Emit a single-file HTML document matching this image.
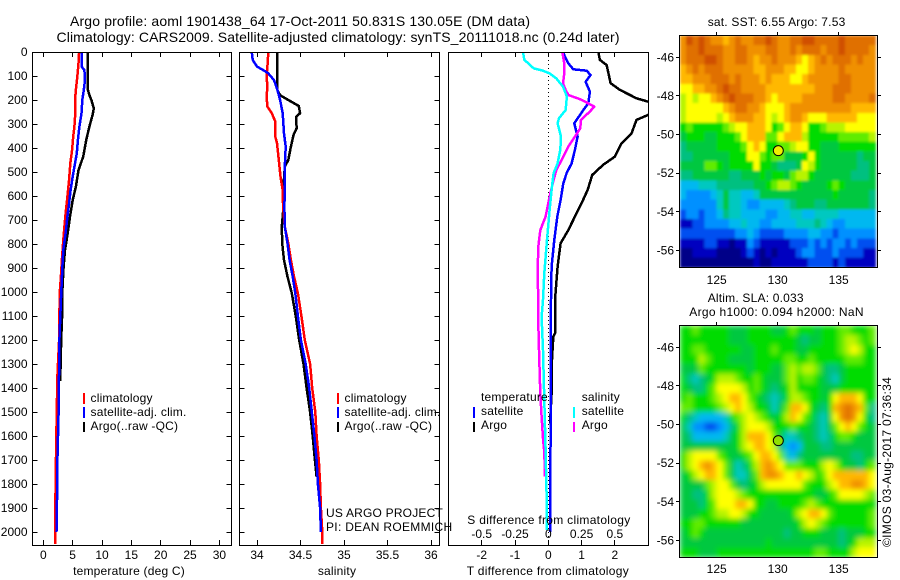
<!DOCTYPE html>
<html lang="en">
<head>
<meta charset="utf-8">
<title>Argo profile 1901438_64</title>
<style>
html,body{margin:0;padding:0;background:#fff;}
svg{display:block;font-family:"Liberation Sans",Arial,sans-serif;font-size:12px;fill:#000;}
text{letter-spacing:.2px;}
text.wide{letter-spacing:.3px;}
text.tick,text.fit{letter-spacing:0;}
</style>
</head>
<body>
<svg id="chart" xmlns="http://www.w3.org/2000/svg" width="900" height="580" viewBox="0 0 900 580">
  <defs>
    <clipPath id="clip-t"><rect x="32" y="52" width="200" height="494"/></clipPath>
    <clipPath id="clip-s"><rect x="239" y="52" width="201" height="494"/></clipPath>
    <clipPath id="clip-d"><rect x="448" y="52" width="201" height="494"/></clipPath>
    <clipPath id="clip-m1"><rect x="679" y="35" width="199" height="233"/></clipPath>
    <clipPath id="clip-m2"><rect x="679" y="325" width="199" height="233"/></clipPath>
    <filter id="blur-sst" filterUnits="userSpaceOnUse" x="679" y="35" width="199" height="233"><feGaussianBlur stdDeviation="1.2" edgeMode="duplicate"/></filter>
    <filter id="blur-sla" filterUnits="userSpaceOnUse" x="679" y="325" width="199" height="233"><feGaussianBlur stdDeviation="2.6" edgeMode="duplicate"/></filter>
  </defs>

  <rect x="0" y="0" width="900" height="580" fill="#fff"/>

  <text class="fit" x="70" y="26" font-size="14" textLength="460" lengthAdjust="spacing">Argo profile: aoml 1901438_64 17-Oct-2011 50.831S 130.05E (DM data)</text>
  <text class="fit" x="56.5" y="42" font-size="14" textLength="563" lengthAdjust="spacing">Climatology: CARS2009. Satellite-adjusted climatology: synTS_20111018.nc (0.24d later)</text>

  <g id="layer-t"></g>
  <g id="layer-s"></g>
  <g id="layer-d"></g>
  <g id="layer-m1"></g>
  <g id="layer-m2"></g>

  <text x="129" y="575" text-anchor="middle">temperature (deg C)</text>
  <text x="337" y="575" text-anchor="middle">salinity</text>
  <text class="wide" x="466.7" y="575">T difference from climatology</text>
  <text class="wide" x="467.3" y="524">S difference from climatology</text>

  <g>
    <rect x="83" y="393" width="2" height="11" fill="#ff0000"/>
    <text x="90.5" y="402">climatology</text>
    <rect x="83" y="407" width="2" height="11" fill="#0000ff"/>
    <text x="90.5" y="416">satellite-adj. clim.</text>
    <rect x="83" y="422" width="2" height="10" fill="#000"/>
    <text x="90.5" y="430">Argo(..raw -QC)</text>
  </g>
  <g>
    <rect x="337" y="393" width="2" height="11" fill="#ff0000"/>
    <text x="344.5" y="402">climatology</text>
    <rect x="337" y="407" width="2" height="11" fill="#0000ff"/>
    <text x="344.5" y="416">satellite-adj. clim.</text>
    <rect x="337" y="422" width="2" height="10" fill="#000"/>
    <text x="344.5" y="430">Argo(..raw -QC)</text>
  </g>
  <g>
    <text x="481" y="401">temperature</text>
    <rect x="473" y="407" width="2" height="11" fill="#0000ff"/>
    <text x="481" y="415">satellite</text>
    <rect x="473" y="422" width="2" height="10" fill="#000"/>
    <text x="481" y="429">Argo</text>
    <text x="581.7" y="401">salinity</text>
    <rect x="573" y="407" width="2" height="11" fill="#00ffff"/>
    <text x="581.7" y="415">satellite</text>
    <rect x="573" y="422" width="2" height="10" fill="#ff00ff"/>
    <text x="581.7" y="429">Argo</text>
  </g>

  <text x="326" y="517">US ARGO PROJECT</text>
  <text class="wide" x="326" y="531">PI: DEAN ROEMMICH</text>

  <text x="707.7" y="26">sat. SST: 6.55 Argo: 7.53</text>
  <text x="707.7" y="302">Altim. SLA: 0.033</text>
  <text class="wide" x="689.3" y="316">Argo h1000: 0.094 h2000: NaN</text>
  <text class="wide" transform="translate(891 547) rotate(-90)">©IMOS 03-Aug-2017 07:36:34</text>
</svg>

<script>
// ---- profile tick labels ----
const depthTicks = [0,100,200,300,400,500,600,700,800,900,1000,1100,1200,1300,1400,1500,1600,1700,1800,1900,2000];
const tempTicks = [0,5,10,15,20,25,30];
const salTicks = [34,34.5,35,35.5,36];
const diffTicks = [-2,-1,0,1,2];
const sDiffTicks = [-0.5,-0.25,0,0.25,0.5];
const lonTicks = [125,130,135];
const latTicks = [-46,-48,-50,-52,-54,-56];

// ---- temperature panel ----
const tClimDepth = [0,47,103,144,186,255,311,353,408,464,533,603,672,728,783,853,936,1005,1200,1350,1630,1900,2050];
const tClimValue = [6.1,6.0,5.8,5.6,5.45,5.45,5.3,5.1,4.9,4.6,4.4,4.1,3.8,3.6,3.4,3.2,3.0,2.8,2.7,2.4,2.2,2.05,2.05];
const tSatDepth = [0,61,75,117,158,200,255,311,367,422,464,519,575,630,686,756,825,894,1005,1100,1200,1500,1700,1800,1900,2000];
const tSatValue = [6.5,6.5,7.0,7.1,6.9,6.65,6.5,6.15,5.9,5.7,5.4,5.0,4.65,4.4,4.1,3.8,3.4,3.25,3.05,2.9,2.75,2.6,2.4,2.4,2.3,2.25];
const tArgoDepth = [0,158,180,200,235,262,311,367,436,492,561,617,686,756,825,894,992,1100,1200,1300,1370];
const tArgoValue = [7.6,7.6,7.85,8.2,8.6,8.4,7.85,7.3,6.8,6.0,5.55,5.0,4.55,4.15,3.7,3.45,3.25,3.2,3.05,2.95,2.9];

// ---- salinity panel ----
const sClimDepth = [0,61,103,144,186,228,255,290,353,380,450,519,575,644,728,797,867,936,1005,1100,1200,1300,1400,1500,1600,1700,1800,1900,2000,2050];
const sClimValue = [34.13,34.12,34.11,34.12,34.11,34.12,34.17,34.21,34.21,34.23,34.25,34.27,34.295,34.3,34.32,34.36,34.39,34.425,34.47,34.51,34.55,34.61,34.635,34.67,34.685,34.71,34.725,34.735,34.75,34.75];
const sSatDepth = [0,33,61,75,89,117,158,200,255,339,394,478,561,644,728,797,867,936,1005,1100,1200,1300,1400,1500,1600,1700,1800,1900,2000];
const sSatValue = [33.94,33.95,34.0,34.07,34.13,34.195,34.235,34.265,34.295,34.31,34.33,34.32,34.32,34.315,34.32,34.35,34.375,34.41,34.44,34.47,34.505,34.56,34.6,34.63,34.66,34.685,34.7,34.725,34.735];
const sArgoDepth = [0,158,180,200,225,255,270,318,346,394,450,478,561,644,728,797,867,936,1005,1100,1200,1300,1400,1500,1600,1700,1770];
const sArgoValue = [34.235,34.235,34.265,34.36,34.48,34.495,34.45,34.455,34.42,34.39,34.36,34.32,34.305,34.305,34.285,34.29,34.31,34.35,34.40,34.445,34.485,34.535,34.57,34.61,34.64,34.665,34.685];

// ---- difference panel ----
const dtSatDepth = [0,20,47,72,78,96,124,165,214,242,297,353,408,464,505,547,617,686,783,894,1033,1500,2000];
const dtSatValue = [0.45,0.5,0.6,0.75,1.15,1.27,1.12,1.25,1.2,1.05,0.78,0.88,0.8,0.7,0.55,0.45,0.37,0.27,0.18,0.1,0.08,0.07,0.06];
const dtArgoDepth = [0,33,54,103,130,158,193,207,240,262,283,339,380,436,470,512,575,630,686,742,797,894,1033,1172,1187,1311,1422,1547];
const dtArgoValue = [1.5,1.55,1.75,1.83,1.87,2.15,2.65,3.0,3.4,3.0,2.65,2.5,2.2,2.0,1.65,1.32,1.18,1.0,0.8,0.6,0.37,0.28,0.2,0.2,0.15,0.1,0.1,0.05];
const dsSatDepth = [0,33,47,68,78,89,110,144,186,242,276,297,353,408,464,505,575,658,783,922,1033,1103,1242,1450,1658,1867,1992];
const dsSatValue = [-0.19,-0.18,-0.15,-0.11,-0.04,0.01,0.06,0.11,0.14,0.13,0.08,0.07,0.095,0.09,0.07,0.04,0.025,0.01,-0.01,-0.03,-0.04,-0.05,-0.04,-0.03,-0.02,-0.012,-0.012];
const dsArgoDepth = [0,47,89,130,158,179,197,214,228,249,283,318,353,394,450,492,533,603,686,742,811,922,1033,1130,1242,1422,1519,1610,1667,1769];
const dsArgoValue = [0.105,0.12,0.12,0.11,0.13,0.15,0.24,0.3,0.345,0.31,0.245,0.24,0.2,0.15,0.1,0.06,0.04,0.01,-0.02,-0.06,-0.075,-0.08,-0.075,-0.075,-0.07,-0.06,-0.05,-0.04,-0.03,-0.025];

// ---- map colour levels (0 = coldest/lowest ... 16 = warmest/highest), 0.5 degree cells ----
const sstGrid = [
[13,15,14,15,14,13,13,12,13,14,13,13,14,14,15,14,13,13,14,14,15,15,14,14,14,14,15,14,14,14,14,14],
[13,14,14,15,14,14,14,13,13,14,14,13,13,13,14,14,13,13,14,13,14,14,14,13,14,14,15,14,14,14,14,13],
[13,14,14,14,15,15,14,13,13,14,14,13,12,13,13,14,13,13,13,12,11,12,13,14,13,14,14,14,13,14,13,13],
[12,13,14,13,14,14,14,13,13,13,13,13,12,12,13,13,13,12,12,11,11,12,13,13,13,13,14,13,13,13,13,13],
[12,12,13,13,13,14,14,14,13,14,13,13,13,12,13,12,12,12,11,11,12,13,13,13,13,13,14,14,13,13,13,13],
[11,11,12,12,13,13,14,15,14,14,13,13,13,13,12,12,12,12,12,12,12,12,13,13,13,14,14,14,13,13,13,13],
[10,11,10,11,11,12,13,14,15,14,14,14,13,13,12,11,12,12,12,12,13,13,13,13,13,14,14,13,13,13,13,14],
[10,11,11,11,11,11,11,12,13,14,14,13,13,12,11,11,11,12,13,13,13,13,13,13,13,13,13,13,12,12,12,12],
[10,11,11,11,11,11,10,11,12,13,13,13,12,12,11,10,11,12,13,13,12,11,11,11,12,12,12,12,12,11,11,11],
[8,9,8,8,8,8,8,9,10,11,11,12,12,12,11,8,9,11,12,12,11,8,8,9,10,10,10,11,11,11,11,11],
[7,8,8,8,7,7,8,8,8,9,11,12,12,12,9,9,11,12,12,12,10,8,8,8,8,8,9,9,9,9,9,10],
[6,7,7,7,7,7,8,8,8,8,9,11,12,11,8,8,9,9,10,11,11,8,8,7,7,7,8,8,8,8,8,8],
[6,6,7,7,7,7,7,7,8,8,8,11,11,9,8,9,9,7,7,7,8,11,8,7,7,7,7,7,7,6,7,7],
[7,7,7,7,9,9,8,7,8,8,8,8,11,8,8,7,6,6,6,7,11,10,8,7,7,7,7,7,7,6,6,7],
[6,6,7,7,7,7,7,7,6,6,7,7,7,8,7,8,8,7,9,10,10,8,7,7,7,7,7,7,6,6,6,7],
[4,4,4,5,5,5,6,6,6,6,6,6,7,7,8,9,10,10,9,8,7,7,7,7,8,9,8,7,7,7,7,7],
[4,3,3,3,3,4,5,7,5,5,4,4,5,7,7,7,7,7,7,7,7,7,7,7,7,8,7,7,7,7,7,6],
[3,3,3,3,3,3,5,7,5,5,4,3,3,4,4,4,4,5,6,7,7,7,6,6,7,7,7,7,7,7,7,6],
[2,3,3,2,3,3,4,6,5,5,4,4,4,4,3,3,4,4,5,5,4,4,5,5,5,5,4,4,4,4,4,4],
[1,1,2,2,3,3,3,3,4,4,5,4,4,3,3,4,4,4,4,5,5,5,6,5,4,3,3,4,4,4,4,4],
[2,2,2,2,2,2,2,2,2,3,3,4,3,2,2,2,2,3,3,3,3,4,4,3,3,2,3,3,3,3,3,3],
[1,1,1,1,2,2,1,1,0,1,1,3,2,1,1,1,1,1,2,2,2,3,2,3,2,3,3,2,3,2,2,2],
[0,0,1,1,1,1,0,0,0,0,1,2,1,0,1,0,1,1,1,2,3,3,2,2,2,3,2,2,2,2,1,1],
[0,0,0,0,0,0,0,0,0,0,0,0,1,0,0,1,1,1,1,1,1,2,2,2,2,1,2,1,1,1,1,1]
];
const slaGrid = [
[8,8,9,8,8,8,8,8,7,7,7,8,8,8,8,7,7,8,9,8,8,8,7,8,8,8,9,9,8,8,8,9],
[8,8,8,8,8,8,8,8,7,7,7,8,8,8,8,8,8,8,8,7,6,7,7,8,8,8,9,10,10,9,8,9],
[8,8,9,9,8,8,8,8,8,8,7,7,8,8,8,9,8,8,8,7,7,8,8,8,8,8,9,10,11,10,8,8],
[8,8,8,10,9,8,8,8,7,7,7,7,8,8,8,8,8,9,9,8,8,9,8,8,8,8,8,9,9,9,8,8],
[7,7,7,9,8,8,8,8,8,8,8,7,8,8,8,7,7,9,10,9,10,10,9,7,6,6,7,8,8,8,8,8],
[8,6,5,6,7,8,10,10,10,9,8,8,9,8,7,7,7,9,10,8,9,9,8,7,6,5,7,8,8,8,8,8],
[8,7,6,6,8,9,11,11,11,11,10,8,9,8,7,6,7,8,10,8,8,8,8,7,7,7,8,8,8,8,8,8],
[8,9,8,8,8,9,10,11,12,12,11,9,8,7,6,5,6,8,10,10,9,8,8,7,8,11,12,12,12,11,8,8],
[9,9,8,8,8,8,9,10,11,12,11,10,8,8,7,5,7,9,12,12,11,8,7,6,8,12,13,14,13,12,9,6],
[8,6,5,4,4,4,4,5,8,9,10,11,10,9,8,7,8,10,12,11,9,8,6,5,7,11,13,14,13,11,8,6],
[7,5,3,3,2,2,3,4,6,8,10,11,11,11,10,8,8,8,9,8,8,7,6,5,7,9,11,12,11,9,8,7],
[7,6,4,4,4,4,4,5,7,8,10,12,12,12,11,9,7,5,5,6,7,7,6,5,6,8,9,9,8,7,7,7],
[7,7,7,7,7,7,7,7,7,8,10,11,12,12,11,10,6,4,3,4,7,7,7,6,6,7,7,7,7,7,7,7],
[8,10,11,11,11,11,9,8,7,7,8,9,11,12,12,11,9,5,4,6,7,7,7,7,7,7,7,7,6,6,7,7],
[8,10,11,12,13,12,11,9,7,5,6,8,10,12,13,12,11,9,9,9,8,8,8,10,11,10,8,7,7,6,8,9],
[7,8,10,11,12,12,11,9,7,5,5,7,9,12,13,13,12,11,11,12,11,10,8,9,11,12,12,12,12,12,12,11],
[7,7,7,7,9,10,11,11,9,7,6,7,8,10,11,11,11,11,11,11,9,8,8,8,10,11,12,12,13,13,12,11],
[7,7,6,6,8,10,11,11,11,10,9,8,8,8,8,8,8,8,8,8,8,8,7,7,8,9,11,11,11,11,10,9],
[7,7,7,6,8,9,11,11,11,12,12,11,8,8,7,7,8,8,8,8,9,10,9,8,8,8,8,8,8,8,8,8],
[7,7,7,8,8,9,10,10,11,11,10,8,8,7,7,7,7,7,8,10,11,12,12,11,9,8,8,8,8,8,8,9],
[8,8,9,9,8,8,8,8,8,8,7,7,7,7,7,7,7,7,7,8,10,11,10,9,8,8,8,8,8,8,8,9],
[7,8,9,8,7,7,7,7,7,7,7,7,7,7,7,7,7,6,7,7,8,8,8,7,7,7,6,7,7,7,8,8],
[7,7,7,7,7,7,7,7,7,7,7,7,7,7,8,7,7,7,7,7,7,7,7,7,7,7,6,7,8,10,10,10],
[8,8,8,7,7,7,8,8,8,8,8,8,8,8,8,8,8,8,8,8,8,8,9,9,8,8,8,8,10,11,11,11]
];
const levelColors = ['#000088','#0000c0','#0050f0','#0090ff','#00b8f0','#00c8c0','#00c080','#00c840','#00dc00','#60ec00','#b8f400','#ffff00','#ffb800','#f09000','#e07000','#d05000','#c04000'];
const mapCellDeg = 0.5;
const mapLonStart = 122;
const mapLatStart = -44.87;

// ---- axis functions ----
const yP = d => 52 + d * 0.24;
const xT = v => 43.3 + v * 5.87;
const xS = v => 257 + (v - 34) * 87;
const xD = v => 548.3 + v * 33.3;
const xDS = v => 548.3 + v * 133.2;
const xLon = v => 716.7 + (v - 125) * 12.2;
const yLat1 = v => 57.3 + (-46 - v) * 19.32;
const yLat2 = v => 347.3 + (-46 - v) * 19.32;

const NS = 'http://www.w3.org/2000/svg';
function make(tag, parent, attrs, text) {
  const el = document.createElementNS(NS, tag);
  for (const k in attrs) el.setAttribute(k, attrs[k]);
  if (text !== undefined) el.textContent = text;
  parent.appendChild(el);
  return el;
}

function drawFrame(parent, x0, x1) {
  const el = make('rect', parent, {x: x0 + 0.5, y: 52.5, width: x1 - x0, height: 493, fill: 'none', stroke: '#000', 'stroke-width': 1, 'shape-rendering': 'crispEdges'});
  
  
}

function drawTick(parent, x1, y1, x2, y2) {
  const el = make('line', parent, {x1: x1, y1: y1, x2: x2, y2: y2, stroke: '#000', 'stroke-width': 1, 'shape-rendering': 'crispEdges'});
  
  
}

function drawLabel(parent, x, y, anchor, text) {
  const el = make('text', parent, {x: x, y: y, 'text-anchor': anchor, class: 'tick'}, text);
  
  
}

function drawLine(parent, depths, values, xFn, color, name) {
  const pts = depths.map((d, i) => xFn(values[i]).toFixed(1) + ',' + yP(d).toFixed(1)).join(' ');
  const el = make('polyline', parent, {points: pts, fill: 'none', stroke: color, 'stroke-width': 2.5, 'stroke-linejoin': 'round', 'shape-rendering': 'crispEdges'});
  
  
}

function profileTicks(parent, x0, x1, ticks, xFn) {
  depthTicks.forEach(d => {
    const y = Math.floor(yP(d)) + 0.5;
    drawTick(parent, x0, y, x0 + 5, y);
    drawTick(parent, x1, y, x1 - 5, y);
  });
  ticks.forEach(v => {
    const x = Math.floor(xFn(v)) + 0.5;
    drawTick(parent, x, 52, x, 57);
    drawTick(parent, x, 545, x, 540);
  });
}

// temperature panel
const layerT = document.getElementById('layer-t');
const clipT = make('g', layerT, {'clip-path': 'url(#clip-t)'});
drawLine(clipT, tArgoDepth, tArgoValue, xT, '#000000', 'temperature-argo-line');
drawLine(clipT, tClimDepth, tClimValue, xT, '#ff0000', 'temperature-climatology-line');
drawLine(clipT, tSatDepth, tSatValue, xT, '#0000ff', 'temperature-satellite-line');
drawFrame(layerT, 32, 231);
profileTicks(layerT, 32.5, 231.5, tempTicks, xT);
depthTicks.forEach(d => drawLabel(layerT, 27.5, yP(d) + 4, 'end', String(d)));
tempTicks.forEach(v => drawLabel(layerT, xT(v), 559, 'middle', String(v)));

// salinity panel
const layerS = document.getElementById('layer-s');
const clipS = make('g', layerS, {'clip-path': 'url(#clip-s)'});
drawLine(clipS, sArgoDepth, sArgoValue, xS, '#000000', 'salinity-argo-line');
drawLine(clipS, sClimDepth, sClimValue, xS, '#ff0000', 'salinity-climatology-line');
drawLine(clipS, sSatDepth, sSatValue, xS, '#0000ff', 'salinity-satellite-line');
drawFrame(layerS, 239, 439);
profileTicks(layerS, 239.5, 439.5, salTicks, xS);
salTicks.forEach(v => drawLabel(layerS, xS(v), 559, 'middle', String(v)));

// difference panel
const layerD = document.getElementById('layer-d');
const zeroLine = make('line', layerD, {x1: 548.5, y1: 52, x2: 548.5, y2: 545, stroke: '#000', 'stroke-width': 1, 'stroke-dasharray': '1 3', 'shape-rendering': 'crispEdges'});


const clipD = make('g', layerD, {'clip-path': 'url(#clip-d)'});
drawLine(clipD, dtArgoDepth, dtArgoValue, xD, '#000000', 't-difference-argo-line');
drawLine(clipD, dtSatDepth, dtSatValue, xD, '#0000ff', 't-difference-satellite-line');
drawLine(clipD, dsArgoDepth, dsArgoValue, xDS, '#ff00ff', 's-difference-argo-line');
drawLine(clipD, dsSatDepth, dsSatValue, xDS, '#00ffff', 's-difference-satellite-line');
drawFrame(layerD, 448, 648);
diffTicks.forEach(v => {
  const x = Math.floor(xD(v)) + 0.5;
  drawTick(layerD, x, 52, x, 57);
  drawTick(layerD, x, 545, x, 540);
});
diffTicks.forEach(v => drawLabel(layerD, xD(v), 559, 'middle', String(v)));
sDiffTicks.forEach(v => drawLabel(layerD, xDS(v), 538, 'middle', String(v)));

// maps
function drawMap(layer, grid, yFn, top, bottom, clipId, filterId, cellName, lonBaseline) {
  const clip = make('g', layer, {'clip-path': 'url(#' + clipId + ')'});
  const cells = make('g', clip, {filter: 'url(#' + filterId + ')'});
  grid.forEach((row, r) => row.forEach((v, c) => {
    const x0 = xLon(mapLonStart + c * mapCellDeg), x1 = xLon(mapLonStart + (c + 1) * mapCellDeg);
    const y0 = yFn(mapLatStart - r * mapCellDeg), y1 = yFn(mapLatStart - (r + 1) * mapCellDeg);
    const el = make('rect', cells, {x: x0.toFixed(2), y: y0.toFixed(2), width: (x1 - x0 + 0.6).toFixed(2), height: (y1 - y0 + 0.6).toFixed(2), fill: levelColors[v], 'shape-rendering': 'crispEdges'});
    
    
  }));
  const frame = make('rect', layer, {x: 679.5, y: top + 0.5, width: 198, height: bottom - top, fill: 'none', stroke: '#000', 'stroke-width': 1, 'shape-rendering': 'crispEdges'});
  
  
  lonTicks.forEach(v => {
    const x = Math.floor(xLon(v)) + 0.5;
    drawTick(layer, x, top, x, top - 3);
    drawLabel(layer, xLon(v), lonBaseline, 'middle', String(v));
  });
  latTicks.forEach(v => {
    const y = Math.floor(yFn(v)) + 0.5;
    drawTick(layer, 679, y, 676, y);
    drawTick(layer, 878, y, 881, y);
    drawLabel(layer, 674, yFn(v) + 4, 'end', String(v));
  });
}
const layerM1 = document.getElementById('layer-m1');
const layerM2 = document.getElementById('layer-m2');
drawMap(layerM1, sstGrid, yLat1, 35, 267, 'clip-m1', 'blur-sst', 'sst-cell', 284);
drawMap(layerM2, slaGrid, yLat2, 325, 557, 'clip-m2', 'blur-sla', 'sla-cell', 573);

const argoLon = 130.05;
const argoLat = -50.831;
const marker1 = make('circle', layerM1, {cx: xLon(argoLon), cy: yLat1(argoLat), r: 5, fill: '#f0f000', stroke: '#000', 'stroke-width': 1});


const marker2 = make('circle', layerM2, {cx: xLon(argoLon), cy: yLat2(argoLat), r: 5, fill: '#90e000', stroke: '#000', 'stroke-width': 1});


</script>
</body>
</html>
